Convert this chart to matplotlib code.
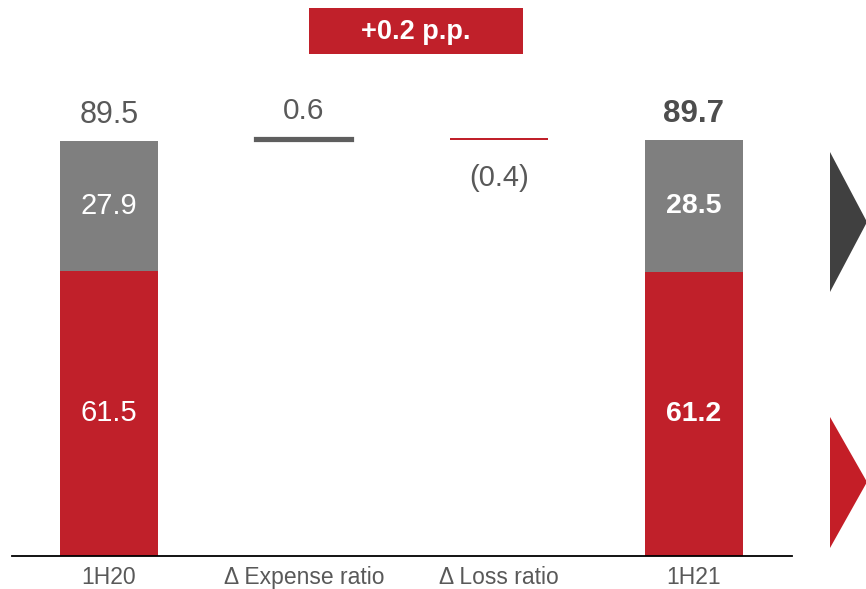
import matplotlib
matplotlib.use("Agg")
import matplotlib.pyplot as plt
from matplotlib.patches import Rectangle, Polygon

plt.rcParams['font.family'] = ['Liberation Sans', 'DejaVu Sans']

categories = ["1H20", "Δ Expense ratio", "Δ Loss ratio", "1H21"]
loss_ratio = [61.5, 61.2]
expense_ratio = [27.9, 28.5]
totals = [89.5, 89.7]
delta_expense = 0.6
delta_loss = -0.4
delta_label = "+0.2 p.p."

RED = "#C0202A"
GRAY = "#7F7F7F"
DARK = "#5E5E5E"
TXT = "#595959"

W, H = 866, 589
fig = plt.figure(figsize=(W/100, H/100), dpi=100)
ax = fig.add_axes([12/W, (H-556)/H, (792-12)/W, 556/H])
ax.set_xlim(-0.497, 3.503)
ax.set_ylim(0, 556/4.637)

bw = 0.503
end_pos = [0, 3]
ax.bar(end_pos, loss_ratio, width=bw, color=RED, zorder=2)
ax.bar(end_pos, expense_ratio, bottom=loss_ratio, width=bw, color=GRAY, zorder=2)

# waterfall deltas
ax.bar(1, delta_expense, bottom=totals[0], width=bw, color=DARK, edgecolor=DARK,
       linewidth=1.6, zorder=2)
ax.bar(2, -delta_loss, bottom=totals[0] + delta_expense + delta_loss, width=bw, color=RED, zorder=2)

# segment labels
for i, p in enumerate(end_pos):
    bold = 'bold' if i == 1 else 'normal'
    fs_in = 20.5 if i == 1 else 21
    ax.text(p, loss_ratio[i]/2, f"{loss_ratio[i]:.1f}", ha='center', va='center',
            color='white', fontsize=fs_in, fontweight=bold)
    ax.text(p, loss_ratio[i] + expense_ratio[i]/2, f"{expense_ratio[i]:.1f}", ha='center',
            va='center', color='white', fontsize=fs_in, fontweight=bold)
    ax.annotate(f"{totals[i]:.1f}", (p, totals[i]), xytext=(0, 13), textcoords='offset points',
                ha='center', va='baseline', color=TXT if i == 0 else '#4D4D4D',
                fontsize=22 if i == 0 else 22.5, fontweight=bold)

ax.annotate(f"{delta_expense:.1f}", (1, totals[0] + delta_expense), xytext=(0, 14),
            textcoords='offset points', ha='center', va='baseline', color=TXT, fontsize=21.5)
ax.annotate(f"({abs(delta_loss):.1f})", (2, totals[0] + delta_expense + delta_loss), xytext=(0, -33),
            textcoords='offset points', ha='center', va='baseline', color=TXT, fontsize=21)

for s in ['top', 'right', 'left']:
    ax.spines[s].set_visible(False)
ax.spines['bottom'].set_color('black')
ax.spines['bottom'].set_linewidth(1.3)
ax.set_yticks([])
ax.set_xticks(range(len(categories)))
ax.set_xticklabels(categories, fontsize=16.5, color=TXT)
ax.tick_params(axis='x', length=0, pad=7)

# header box
fig.patches.append(Rectangle((309/W, (H-54)/H), (523-309)/W, 46/H, transform=fig.transFigure,
                             facecolor=RED, edgecolor='none'))
fig.text(416/W, (H-32)/H, delta_label, ha='center', va='center', color='white',
         fontsize=19.5, fontweight='bold')

# side arrows
fig.patches.append(Polygon([(830/W, (H-152)/H), (867/W, (H-222)/H), (830/W, (H-292)/H)],
                           closed=True, transform=fig.transFigure, facecolor='#404040', edgecolor='none'))
fig.patches.append(Polygon([(830/W, (H-417)/H), (867/W, (H-482)/H), (830/W, (H-548)/H)],
                           closed=True, transform=fig.transFigure, facecolor='#C41E27', edgecolor='none'))

fig.savefig("out.png", dpi=100)
